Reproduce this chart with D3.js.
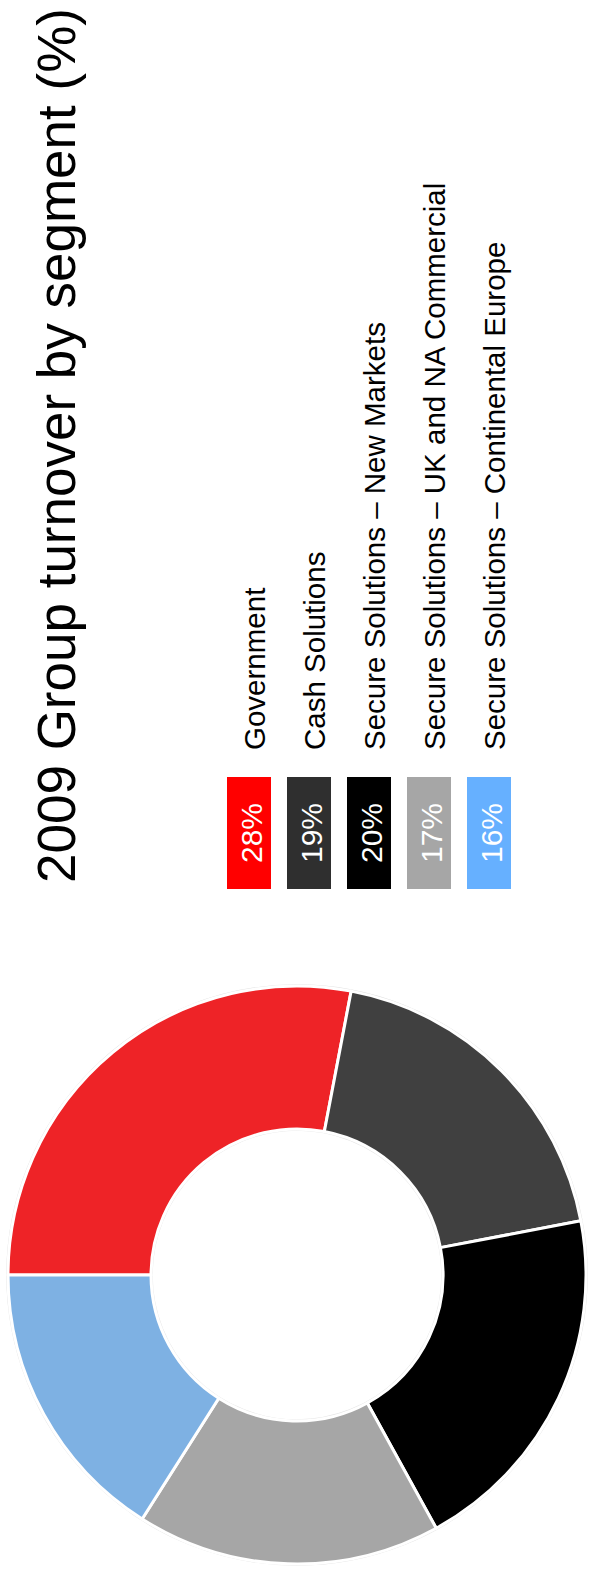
<!DOCTYPE html>
<html>
<head>
<meta charset="utf-8">
<script src="https://cdn.jsdelivr.net/npm/d3@7"></script>
<style>
  html, body { margin: 0; padding: 0; background: #fff; }
  svg { display: block; font-family: "Liberation Sans", Arial, sans-serif; }
</style>
</head>
<body>
<svg id="chart" width="590" height="1576"></svg>
<script>
// Segment shares of 2009 group turnover
const title = "2009 Group turnover by segment (%)";
const segments = [
  "Government",
  "Cash Solutions",
  "Secure Solutions – New Markets",
  "Secure Solutions – UK and NA Commercial",
  "Secure Solutions – Continental Europe"
];
const shares = [28, 19, 20, 17, 16];
const shareLabels = ["28%", "19%", "20%", "17%", "16%"];
const donutColours = ["#EE2327", "#404040", "#000000", "#A6A6A6", "#7EB1E3"];
const keyColours = ["#FF0000", "#2F2F2F", "#000000", "#A6A6A6", "#66B0FF"];

// The slide is laid out landscape (1576 x 590) and turned a quarter turn
const W = 1576, H = 590;
const svg = d3.select("#chart");
const g = svg.append("g").attr("transform", `translate(0,${W}) rotate(-90)`);

// Title
g.append("text")
  .attr("x", 693)
  .attr("y", 75)
  .attr("font-size", 53)
  .attr("fill", "#000")
  .text(title);

// Donut
const cx = 301, cy = 297, rOuter = 289, rInner = 146;
const pie = d3.pie().sort(null).value(d => d)(shares);
const arc = d3.arc().innerRadius(rInner).outerRadius(rOuter);
const donut = g.append("g").attr("transform", `translate(${cx},${cy})`);

donut.append("circle").attr("r", rOuter + 1)
  .attr("fill", "none").attr("stroke", "#e2e2e2").attr("stroke-width", 1.5);
donut.append("circle").attr("r", rInner - 1)
  .attr("fill", "none").attr("stroke", "#e6e6e6").attr("stroke-width", 1.5);

donut.selectAll("path")
  .data(pie)
  .join("path")
  .attr("d", arc)
  .attr("fill", (d, i) => donutColours[i])
  .attr("stroke", "#ffffff")
  .attr("stroke-width", 3)
  .attr("stroke-linejoin", "round");

// Key: coloured boxes holding the share, then the segment name
const rowY = d3.scalePoint().domain(d3.range(segments.length)).range([227, 467]);
const key = g.append("g");
const rows = key.selectAll("g.row")
  .data(segments)
  .join("g")
  .attr("class", "row")
  .attr("transform", (d, i) => `translate(0,${rowY(i)})`);

rows.append("rect")
  .attr("x", 687)
  .attr("y", 0)
  .attr("width", 112)
  .attr("height", 44)
  .attr("fill", (d, i) => keyColours[i]);

rows.append("text")
  .attr("x", 743)
  .attr("y", 34.5)
  .attr("text-anchor", "middle")
  .attr("font-size", 30)
  .attr("fill", "#fff")
  .text((d, i) => shareLabels[i]);

rows.append("text")
  .attr("x", 826)
  .attr("y", 38)
  .attr("font-size", 29.5)
  .attr("fill", "#000")
  .text(d => d);
</script>
</body>
</html>
